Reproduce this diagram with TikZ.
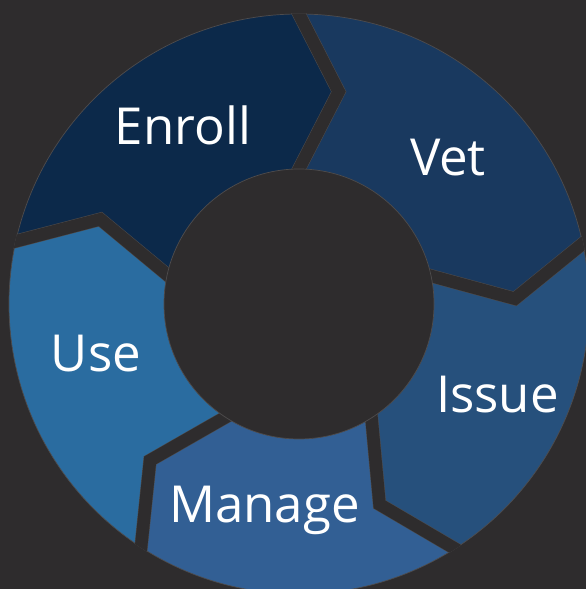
\documentclass[tikz,border=0pt]{standalone}
\usepackage{fontspec}
\setmainfont{Open Sans}
\definecolor{bg}{HTML}{2E2C2D}
\definecolor{edgegray}{HTML}{4E4C4D}
\definecolor{cEnroll}{HTML}{0C294A}
\definecolor{cVet}{HTML}{19395F}
\definecolor{cIssue}{HTML}{26507C}
\definecolor{cManage}{HTML}{325F94}
\definecolor{cUse}{HTML}{2A6CA0}
\def\R{290}
\def\r{135}
\def\T{216}
\def\off{10.6}
\newcommand\ringseg[3]{\fill[#1] (#2:\R) arc[start angle=#2,end angle=#3,radius=\R] -- ({#3-\off}:\T) -- (#3:\r) arc[start angle=#3,end angle=#2,radius=\r] -- ({#2-\off}:\T) -- cycle;}
\newcommand\ringgap[1]{%
  \draw[gapedge] (#1:\R) -- ({#1-\off}:\T) -- (#1:\r);
  \draw[gapline] (#1:\R) -- ({#1-\off}:\T) -- (#1:\r);}
\tikzset{
  gapline/.style={draw=bg,line width=12.5pt,line join=miter,shorten <=-14pt,shorten >=-14pt},
  gapedge/.style={draw=edgegray,line width=13.5pt,line join=miter,shorten <=-14pt,shorten >=-14pt},
  lbl/.style={text=white,font=\fontsize{51}{58}\selectfont,anchor=base,inner sep=0pt}
}
\begin{document}
\begin{tikzpicture}[x=1pt,y=1pt]
\fill[bg] (0,0) rectangle (586,589);
\useasboundingbox (0,0) rectangle (586,589);
\begin{scope}[shift={(299,285)}]
  \ringseg{cEnroll}{167.5}{90}
  \ringseg{cVet}{90}{12}
  \ringseg{cIssue}{12}{-57.5}
  \ringseg{cManage}{-57.5}{-123}
  \ringseg{cUse}{237}{167.5}
  \draw[edgegray,line width=0.7pt] (0,0) circle[radius=\R];
  \begin{scope}
    \clip (0,0) circle[radius=\R+0.6];
    \ringgap{90}
    \ringgap{12}
    \ringgap{-57.5}
    \ringgap{-123}
    \ringgap{167.5}
  \end{scope}
  \fill[bg,draw=edgegray,line width=0.7pt] (0,0) circle[radius=\r];
\end{scope}
\node[lbl] (enroll) at (183,444) {Enroll};
\node[lbl] (vet) at (448,413) {Vet};
\node[lbl] (issue) at (497.5,176) {Issue};
\node[lbl] (manage) at (264.5,66) {Manage};
\node[lbl] (use) at (96,217) {Use};
\end{tikzpicture}
\end{document}
